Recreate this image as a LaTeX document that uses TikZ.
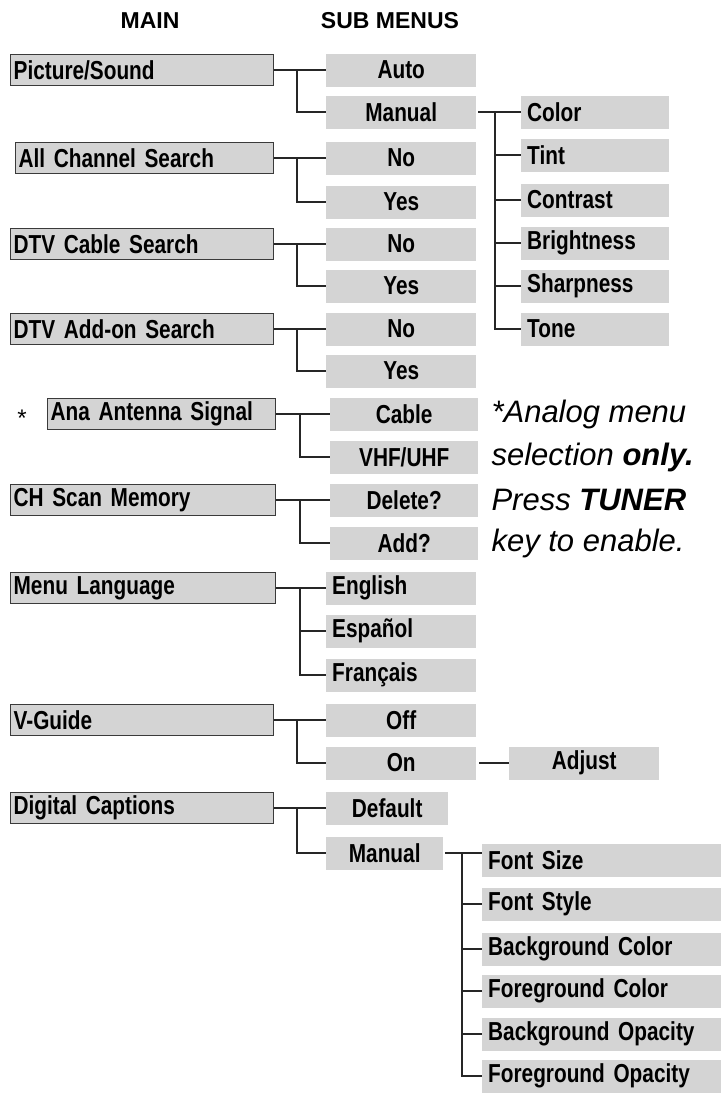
\documentclass[tikz,border=0pt]{standalone}
\usepackage{fontspec}
\setmainfont{Liberation Sans}
\newfontfamily\cond[FakeStretch=0.8]{Liberation Sans}
\definecolor{boxgray}{HTML}{D4D4D4}
\definecolor{edgegray}{HTML}{3A3A3A}
\begin{document}
\begin{tikzpicture}[x=1pt,y=-1pt,
  conn/.style={line width=2.6pt,color=black!85},
  mainbox/.style={draw=edgegray,line width=1.3pt,fill=boxgray,anchor=west,minimum height=31pt,inner xsep=3pt,inner ysep=0pt,align=left,font=\cond\bfseries\fontsize{26}{26}\selectfont},
  subbox/.style={fill=boxgray,anchor=west,minimum height=33pt,inner sep=0pt,align=center,font=\cond\bfseries\fontsize{26}{26}\selectfont},
  leftbox/.style={fill=boxgray,anchor=west,minimum height=33pt,inner xsep=6pt,inner ysep=0pt,align=left,font=\cond\bfseries\fontsize{26}{26}\selectfont},
  head/.style={font=\bfseries\fontsize{23}{23}\selectfont},
  note/.style={anchor=west,font=\itshape\fontsize{31}{31}\selectfont}]
\useasboundingbox (0,0) rectangle (721,1095);
\node[head] (hmain) at (150,21) {MAIN};
\node[head] (hsub) at (390,21) {SUB MENUS};
\coordinate (va) at (297,0);
\coordinate (vb) at (300,0);
% group 1
\node[mainbox,text width=257pt] (m1) at (10,70) {Picture/Sound};
\node[subbox,minimum width=150pt] (s1a) at (326,70) {Auto};
\node[subbox,minimum width=150pt] (s1b) at (326,112) {Manual};
\draw[conn] (m1.east) -- (s1a.west);
\draw[conn] (m1.east -| va) |- (s1b.west);
\coordinate (vc) at (495,0);
\node[leftbox,text width=136pt] (c1) at (521,112) {Color};
\node[leftbox,text width=136pt] (c2) at (521,155) {Tint};
\node[leftbox,text width=136pt] (c3) at (521,200) {Contrast};
\node[leftbox,text width=136pt] (c4) at (521,243) {Brightness};
\node[leftbox,text width=136pt] (c5) at (521,286) {Sharpness};
\node[leftbox,text width=136pt] (c6) at (521,329) {Tone};
\draw[conn] ([xshift=2pt]s1b.east) -- (c1.west);
\draw[conn] (s1b.east -| vc) |- (c6.west);
\foreach \c in {c2,c3,c4,c5} \draw[conn] (\c.west -| vc) -- (\c.west);
% group 2
\node[mainbox,text width=252pt] (m2) at (15,158) {All Channel Search};
\node[subbox,minimum width=150pt] (s2a) at (326,158) {No};
\node[subbox,minimum width=150pt] (s2b) at (326,202) {Yes};
\draw[conn] (m2.east) -- (s2a.west);
\draw[conn] (m2.east -| va) |- (s2b.west);
% group 3
\node[mainbox,text width=257pt] (m3) at (10,244) {DTV Cable Search};
\node[subbox,minimum width=150pt] (s3a) at (326,244) {No};
\node[subbox,minimum width=150pt] (s3b) at (326,286) {Yes};
\draw[conn] (m3.east) -- (s3a.west);
\draw[conn] (m3.east -| va) |- (s3b.west);
% group 4
\node[mainbox,text width=257pt] (m4) at (10,329) {DTV Add-on Search};
\node[subbox,minimum width=150pt] (s4a) at (326,329) {No};
\node[subbox,minimum width=150pt] (s4b) at (326,371) {Yes};
\draw[conn] (m4.east) -- (s4a.west);
\draw[conn] (m4.east -| va) |- (s4b.west);
% group 5
\node[font=\fontsize{24}{24}\selectfont] (ast) at (22,418) {*};
\node[mainbox,text width=222pt] (m5) at (47,414) {Ana Antenna Signal};
\node[subbox,minimum width=148pt] (s5a) at (330,414) {Cable};
\node[subbox,minimum width=148pt] (s5b) at (330,457) {VHF/UHF};
\draw[conn] (m5.east) -- (s5a.west);
\draw[conn] (m5.east -| vb) |- (s5b.west);
\node[note] (n1) at (488,414) {*Analog menu};
\node[note] (n2) at (488,457) {selection \textbf{only.}};
\node[note] (n3) at (488,500) {Press \textbf{TUNER}};
\node[note] (n4) at (488,543) {key to enable.};
% group 6
\node[mainbox,text width=259pt] (m6) at (10,500) {CH Scan Memory};
\node[subbox,minimum width=148pt] (s6a) at (330,500) {Delete?};
\node[subbox,minimum width=148pt] (s6b) at (330,543) {Add?};
\draw[conn] (m6.east) -- (s6a.west);
\draw[conn] (m6.east -| vb) |- (s6b.west);
% group 7
\node[mainbox,text width=259pt] (m7) at (10,588) {Menu Language};
\node[leftbox,text width=138pt] (s7a) at (326,588) {English};
\node[leftbox,text width=138pt] (s7b) at (326,631) {Español};
\node[leftbox,text width=138pt] (s7c) at (326,675) {Français};
\draw[conn] (m7.east) -- (s7a.west);
\draw[conn] (m7.east -| vb) |- (s7c.west);
\draw[conn] (s7b.west -| vb) -- (s7b.west);
% group 8
\node[mainbox,text width=257pt] (m8) at (10,720) {V-Guide};
\node[subbox,minimum width=150pt] (s8a) at (326,720) {Off};
\node[subbox,minimum width=150pt] (s8b) at (326,763) {On};
\node[subbox,minimum width=150pt] (adj) at (509,763) {Adjust};
\draw[conn] (m8.east) -- (s8a.west);
\draw[conn] (m8.east -| va) |- (s8b.west);
\draw[conn] ([xshift=3pt]s8b.east) -- (adj.west);
% group 9
\node[mainbox,text width=257pt] (m9) at (10,808) {Digital Captions};
\node[subbox,minimum width=122pt] (s9a) at (326,808) {Default};
\node[subbox,minimum width=117pt] (s9b) at (326,853) {Manual};
\draw[conn] (m9.east) -- (s9a.west);
\draw[conn] (m9.east -| va) |- (s9b.west);
\coordinate (vd) at (462,0);
\node[leftbox,text width=227pt] (d1) at (482,860) {Font Size};
\node[leftbox,text width=227pt] (d2) at (482,904) {Font Style};
\node[leftbox,text width=227pt] (d3) at (482,949) {Background Color};
\node[leftbox,text width=227pt] (d4) at (482,991) {Foreground Color};
\node[leftbox,text width=227pt] (d5) at (482,1034) {Background Opacity};
\node[leftbox,text width=227pt] (d6) at (482,1076) {Foreground Opacity};
\draw[conn] ([xshift=2pt]s9b.east) -- (s9b.east -| d1.west);
\draw[conn] (s9b.east -| vd) |- (d6.west);
\foreach \d in {d2,d3,d4,d5} \draw[conn] (\d.west -| vd) -- (\d.west);
\end{tikzpicture}
\end{document}
